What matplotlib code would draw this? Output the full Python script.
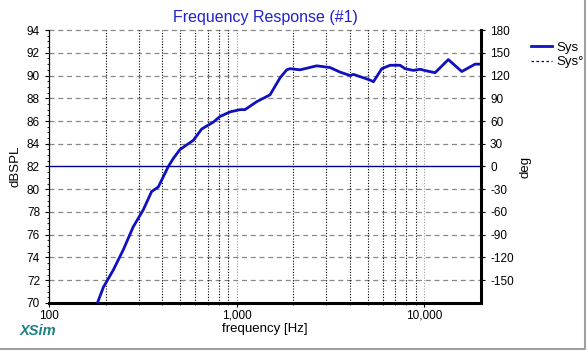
import numpy as np
import matplotlib
matplotlib.use("Agg")
from matplotlib import pyplot as plt
from matplotlib.lines import Line2D
from matplotlib.ticker import FixedLocator, NullFormatter, FuncFormatter

plt.rcParams['font.family'] = ['Liberation Sans', 'DejaVu Sans']
plt.rcParams['axes.unicode_minus'] = False

# frequency response
freq = [182, 195, 220, 249, 281, 318, 352, 382, 432, 459, 499, 587, 651, 750,
        815, 921, 1041, 1107, 1278, 1504, 1567, 1702, 1846, 1923, 2173, 2667,
        3141, 3550, 4015, 4180, 4726, 5128, 5346, 5922, 6557, 7413, 7880,
        8730, 9476, 10288, 11392, 13400, 15800, 18600, 20000]
spl = [70.1, 71.4, 72.9, 74.7, 76.7, 78.2, 79.8, 80.2, 82.0, 82.7, 83.5, 84.3,
       85.3, 85.9, 86.4, 86.8, 87.0, 87.0, 87.7, 88.3, 88.8, 89.8, 90.5, 90.6,
       90.5, 90.85, 90.7, 90.3, 90.0, 90.1, 89.8, 89.6, 89.45, 90.6, 90.9,
       90.9, 90.6, 90.45, 90.55, 90.4, 90.25, 91.4, 90.35, 91.0, 91.0]
phase_freq = [100, 20000]
phase = [0, 0]

spl_ticks = list(range(70, 95, 2))
deg_ticks = [-150, -120, -90, -60, -30, 0, 30, 60, 90, 120, 150, 180]
freq_major = [100, 1000, 10000]
freq_minor = [200, 300, 400, 500, 600, 700, 800, 900,
              2000, 3000, 4000, 5000, 6000, 7000, 8000, 9000]

fig = plt.figure(figsize=(5.87, 3.51), dpi=100)
ax = fig.add_axes([0.0835, 0.1368, 0.7359, 0.7777])
ax.set_xscale('log')
ax.set_xlim(100, 20000)
ax.set_ylim(70, 94)

# grid
for y in spl_ticks[1:]:
    if y == 82:
        continue
    ax.axhline(y, color='#888888', lw=0.9, ls=(0, (4, 3)), clip_on=False, zorder=1)
for f in freq_minor:
    ax.axvline(f, color='black', lw=0.8, ls=(0, (1, 1.5)), zorder=1)
for f in freq_major[1:]:
    ax.axvline(f, color='#999999', lw=0.8, ls=(0, (1, 1.5)), zorder=1)

ax.plot(freq, spl, color='#1010c0', lw=2.0, zorder=3)

ax.xaxis.set_major_locator(FixedLocator(freq_major))
ax.xaxis.set_minor_locator(FixedLocator(freq_minor))
ax.xaxis.set_major_formatter(FuncFormatter(lambda v, p: '{:,}'.format(int(v))))
ax.xaxis.set_minor_formatter(NullFormatter())
ax.set_yticks(spl_ticks)
ax.set_yticks(np.arange(70, 94.01, 0.5), minor=True)

ax.tick_params(axis='both', which='major', labelsize=8.5, length=3, width=0.8)
ax.tick_params(axis='both', which='minor', length=1.5, width=0.6)
ax.tick_params(axis='x', pad=2)

ax.spines['top'].set_visible(False)
ax.spines['right'].set_visible(False)
ax.spines['bottom'].set_linewidth(2.2)
ax.spines['left'].set_linewidth(0.9)

ax.set_xlabel('frequency [Hz]', fontsize=9.5, labelpad=1)
ax.set_ylabel('dBSPL', fontsize=9.5, labelpad=4)
ax.set_title('Frequency Response (#1)', fontsize=11.5, color='#2020d0', pad=6)

ax2 = ax.twinx()
ax2.set_ylim(-180, 180)
ax2.plot(phase_freq, phase, color='#000090', lw=1.0, zorder=2)
ax2.set_yticks(deg_ticks)
ax2.tick_params(axis='y', labelsize=8.5, length=3, width=0.8)
for s in ['top', 'left', 'bottom']:
    ax2.spines[s].set_visible(False)
ax2.spines['right'].set_linewidth(2.2)
ax2.set_ylabel('deg', fontsize=9.5, labelpad=4, rotation=90)

handles = [Line2D([], [], color='#1010c0', lw=2.0),
           Line2D([], [], color='#000090', lw=0.9, ls=(0, (2, 2)))]
fig.legend(handles, ['Sys', 'Sys\u00b0'], loc='upper left',
           bbox_to_anchor=(0.885, 0.915), frameon=False, fontsize=9.5,
           handlelength=1.6, handletextpad=0.3, labelspacing=0.15)

fig.text(0.033, 0.045, 'XSim', color='#1a8080', fontsize=10.5,
         fontweight='bold', fontstyle='italic')

# grey window frame on right/bottom
fig.add_artist(Line2D([0, 0.996, 0.996], [0.007, 0.007, 1.0],
                      transform=fig.transFigure, color='#a0a0a0', lw=1.5))

fig.savefig('out.png', dpi=100)
